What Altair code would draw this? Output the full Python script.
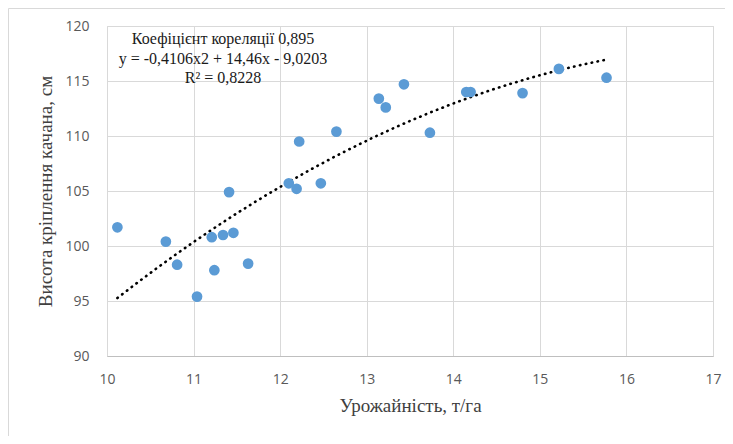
import altair as alt
import pandas as pd

# Data
yield_t_ha = [10.12, 10.68, 10.81, 11.04, 11.21, 11.24, 11.34, 11.41, 11.46, 11.63,
              12.10, 12.19, 12.22, 12.47, 12.65, 13.14, 13.22, 13.43, 13.73,
              14.15, 14.20, 14.80, 15.22, 15.77]
height_cm = [101.7, 100.4, 98.3, 95.4, 100.8, 97.8, 101.0, 104.9, 101.2, 98.4,
             105.7, 105.2, 109.5, 105.7, 110.4, 113.4, 112.6, 114.7, 110.3,
             114.0, 114.0, 113.9, 116.1, 115.3]
x_ticks = [10, 11, 12, 13, 14, 15, 16, 17]
y_ticks = [90, 95, 100, 105, 110, 115, 120]
annotation = ["Коефіцієнт кореляції 0,895",
              "y = -0,4106x2 + 14,46x - 9,0203",
              "R² = 0,8228"]

df = pd.DataFrame({"x": yield_t_ha, "y": height_cm})

x_enc = alt.X("x:Q", scale=alt.Scale(domain=[10, 17], nice=False, zero=False),
              axis=alt.Axis(values=x_ticks, title="Урожайність, т/га", format="d",
                            grid=True, gridColor="#d9d9d9", domainColor="#bfbfbf",
                            ticks=False, labelPadding=16, labelFlush=False,
                            labelFont="Open Sans", labelFontSize=14, labelColor="#595959",
                            titleFont="Liberation Serif", titleFontSize=19,
                            titleFontWeight="normal", titleColor="#404040",
                            titlePadding=10))
y_enc = alt.Y("y:Q", scale=alt.Scale(domain=[90, 120], nice=False, zero=False),
              axis=alt.Axis(values=y_ticks, title="Висота кріплення качана, см",
                            grid=True, gridColor="#d9d9d9", domain=False,
                            ticks=False, labelPadding=18, labelFlush=False,
                            labelFont="Open Sans", labelFontSize=14, labelColor="#595959",
                            titleFont="Liberation Serif", titleFontSize=19,
                            titleFontWeight="normal", titleColor="#404040",
                            titleAngle=270, titleX=-62, titleY=165,
                            titleAlign="center", titleBaseline="middle"))

points = alt.Chart(df).mark_circle(size=115, color="#5B9BD5", opacity=1).encode(
    x=x_enc, y=y_enc)

trend = alt.Chart(df).transform_regression(
    "x", "y", method="poly", order=2
).mark_line(color="black", strokeWidth=2.6, strokeDash=[0.5, 5.5],
            strokeCap="round").encode(x="x:Q", y="y:Q")

ann_layers = []
for i, line in enumerate(annotation):
    ann_layers.append(
        alt.Chart(df.head(1)).mark_text(
            font="Liberation Serif", fontSize=16, color="#1a1a1a", align="center",
            baseline="middle", text=line
        ).encode(x=alt.value(116), y=alt.value(13 + 19.5 * i))
    )

# light frame of the chart area (left and top edges)
frame_left = alt.Chart(df.head(1)).mark_rule(color="#d9d9d9", strokeWidth=1).encode(
    x=alt.value(-98.5), y=alt.value(-17.5), y2=alt.value(420))
frame_top = alt.Chart(df.head(1)).mark_rule(color="#d9d9d9", strokeWidth=1).encode(
    x=alt.value(-98.5), x2=alt.value(640), y=alt.value(-17.5))

chart = alt.layer(frame_left, frame_top, trend, points, *ann_layers).properties(
    width=606, height=330,
    autosize="none",
    padding={"left": 99, "top": 18, "right": 12, "bottom": 80},
).configure_view(stroke="#d9d9d9")

chart.save("out.html", embed_options={"renderer": "svg", "actions": False})
